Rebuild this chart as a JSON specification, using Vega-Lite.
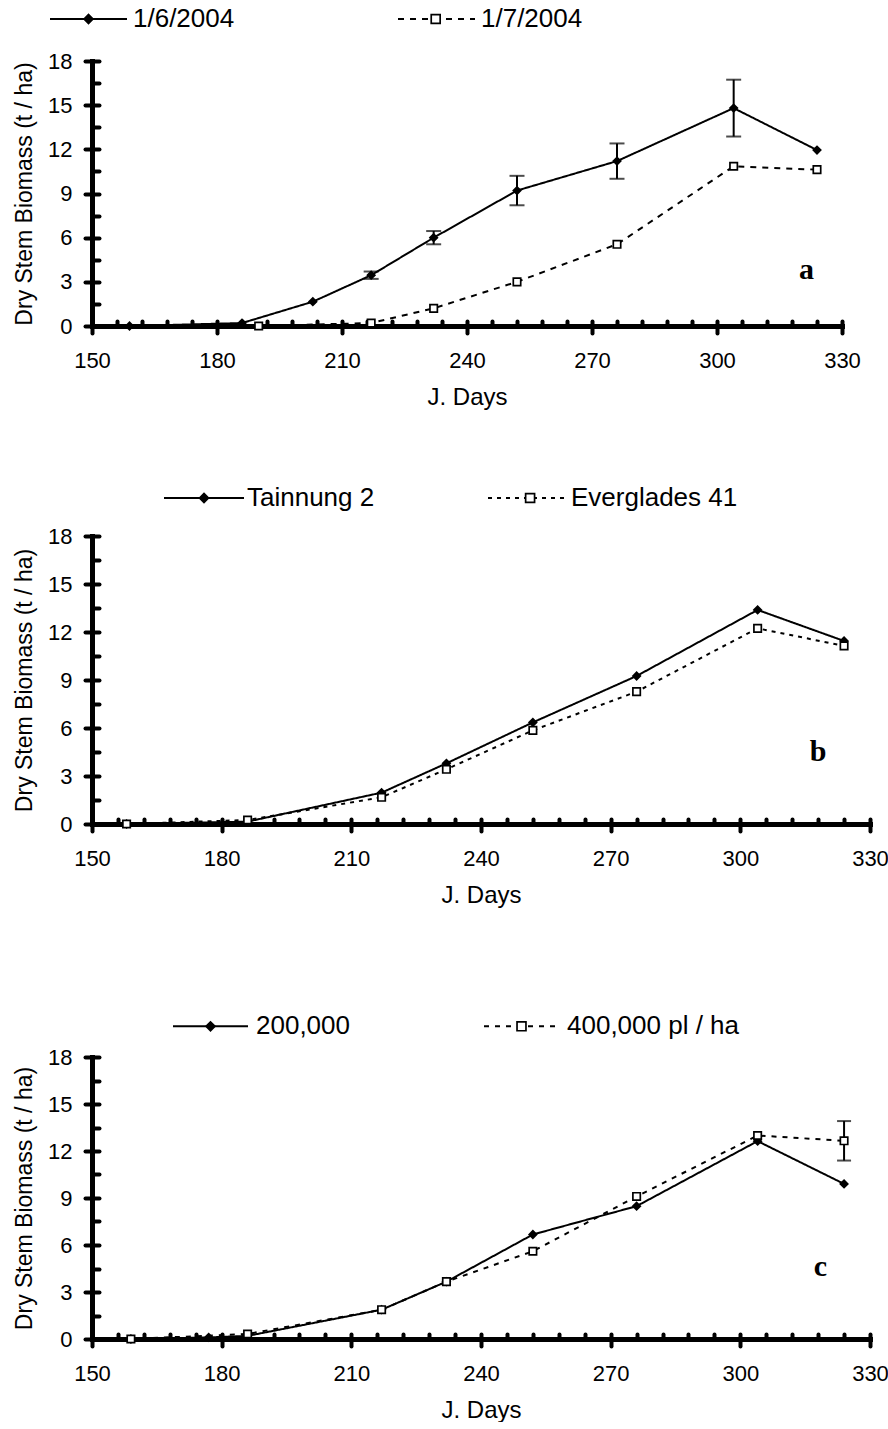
{
  "$schema": "https://vega.github.io/schema/vega-lite/v6.json",
  "background": "white",
  "padding": {"left": 12, "top": 4, "right": 0, "bottom": 0},
  "config": {
    "font": "Liberation Sans",
    "view": {"stroke": null},
    "axis": {
      "labelFont": "Liberation Sans", "titleFont": "Liberation Sans",
      "labelColor": "black", "titleColor": "black", "titleFontWeight": "normal",
      "domainColor": "black", "tickColor": "black", "gridColor": "black",
      "domainWidth": 5, "domainCap": "square", "tickWidth": 4, "tickCap": "round", "tickSize": 7,
      "gridWidth": 4, "gridCap": "round", "gridOpacity": 1,
      "labelFontSize": 22, "labelOverlap": false, "labelFlush": false
    },
    "legend": {"labelFont": "Liberation Sans", "labelColor": "black", "labelFontSize": 26, "labelLimit": 500, "padding": 0, "title": null, "orient": "none", "direction": "horizontal", "clipHeight": 30}
  },
  "datasets": {
    "a": [
      {"series": "1/6/2004", "day": 159, "value": 0},
      {"series": "1/6/2004", "day": 186, "value": 0.2},
      {"series": "1/6/2004", "day": 203, "value": 1.65},
      {"series": "1/6/2004", "day": 217, "value": 3.45, "err": 0.25},
      {"series": "1/6/2004", "day": 232, "value": 6.0, "err": 0.45},
      {"series": "1/6/2004", "day": 252, "value": 9.2, "err": 1.0},
      {"series": "1/6/2004", "day": 276, "value": 11.2, "err": 1.2},
      {"series": "1/6/2004", "day": 304, "value": 14.8, "err": 1.93},
      {"series": "1/6/2004", "day": 324, "value": 11.95},
      {"series": "1/7/2004", "day": 190, "value": 0},
      {"series": "1/7/2004", "day": 217, "value": 0.2},
      {"series": "1/7/2004", "day": 232, "value": 1.2},
      {"series": "1/7/2004", "day": 252, "value": 3.0},
      {"series": "1/7/2004", "day": 276, "value": 5.55},
      {"series": "1/7/2004", "day": 304, "value": 10.85},
      {"series": "1/7/2004", "day": 324, "value": 10.62}
    ],
    "b": [
      {"series": "Tainnung 2", "day": 158, "value": 0},
      {"series": "Tainnung 2", "day": 186, "value": 0.15},
      {"series": "Tainnung 2", "day": 217, "value": 1.96},
      {"series": "Tainnung 2", "day": 232, "value": 3.79},
      {"series": "Tainnung 2", "day": 252, "value": 6.35},
      {"series": "Tainnung 2", "day": 276, "value": 9.25},
      {"series": "Tainnung 2", "day": 304, "value": 13.38},
      {"series": "Tainnung 2", "day": 324, "value": 11.44},
      {"series": "Everglades 41", "day": 158, "value": 0},
      {"series": "Everglades 41", "day": 186, "value": 0.25},
      {"series": "Everglades 41", "day": 217, "value": 1.67},
      {"series": "Everglades 41", "day": 232, "value": 3.42},
      {"series": "Everglades 41", "day": 252, "value": 5.85},
      {"series": "Everglades 41", "day": 276, "value": 8.27},
      {"series": "Everglades 41", "day": 304, "value": 12.23},
      {"series": "Everglades 41", "day": 324, "value": 11.13}
    ],
    "c": [
      {"series": "200,000", "day": 159, "value": 0},
      {"series": "200,000", "day": 177, "value": 0.1},
      {"series": "200,000", "day": 186, "value": 0.2},
      {"series": "200,000", "day": 217, "value": 1.87},
      {"series": "200,000", "day": 232, "value": 3.66},
      {"series": "200,000", "day": 252, "value": 6.67},
      {"series": "200,000", "day": 276, "value": 8.48},
      {"series": "200,000", "day": 304, "value": 12.63},
      {"series": "200,000", "day": 324, "value": 9.9},
      {"series": "400,000 pl / ha", "day": 159, "value": 0},
      {"series": "400,000 pl / ha", "day": 186, "value": 0.32},
      {"series": "400,000 pl / ha", "day": 217, "value": 1.87},
      {"series": "400,000 pl / ha", "day": 232, "value": 3.66},
      {"series": "400,000 pl / ha", "day": 252, "value": 5.6},
      {"series": "400,000 pl / ha", "day": 276, "value": 9.1},
      {"series": "400,000 pl / ha", "day": 304, "value": 12.99},
      {"series": "400,000 pl / ha", "day": 324, "value": 12.65, "err": 1.26}
    ]
  },
  "columns": 1,
  "spacing": 104,
  "resolve": {"scale": {"strokeDash": "independent", "shape": "independent", "fill": "independent", "stroke": "independent"}},
  "concat": [
    {
      "columns": 1,
      "spacing": 74,
      "resolve": {"scale": {"strokeDash": "independent", "shape": "independent", "fill": "independent", "stroke": "independent"}},
      "concat": [
        {
          "width": 750, "height": 265,
          "data": {"name": "a"},
          "encoding": {
            "x": {"field": "day", "type": "quantitative", "scale": {"domain": [150, 330], "nice": false, "zero": false},
              "axis": {"title": "J. Days", "titleFontSize": 24, "titlePadding": 14, "labelPadding": 17,
                "values": [150,156,162,168,174,180,186,192,198,204,210,216,222,228,234,240,246,252,258,264,270,276,282,288,294,300,306,312,318,324,330],
                "labelExpr": "datum.value % 30 === 0 ? datum.label : ''",
                "tickOpacity": {"condition": {"test": "datum.value % 30 === 0", "value": 1}, "value": 0},
                "grid": true, "gridDash": [5, 3000], "gridDashOffset": -260}},
            "y": {"field": "value", "type": "quantitative", "scale": {"domain": [0, 18], "nice": false},
              "axis": {"title": "Dry Stem Biomass (t / ha)", "titleFontSize": 23, "titlePadding": 11, "labelPadding": 13,
                "minExtent": 45, "maxExtent": 45,
                "values": [0,1.5,3,4.5,6,7.5,9,10.5,12,13.5,15,16.5,18],
                "labelExpr": "datum.value % 3 === 0 ? datum.label : ''",
                "tickOpacity": {"condition": {"test": "datum.value % 3 === 0", "value": 1}, "value": 0},
                "grid": true, "gridDash": [7, 3000]}}
          },
          "layer": [
            {
              "mark": {"type": "line", "color": "black", "strokeWidth": 2},
              "encoding": {
                "strokeDash": {"field": "series", "type": "nominal",
                  "scale": {"domain": ["1/6/2004", "1/7/2004"], "range": [[1, 0], [6, 6]]},
                  "legend": {"legendX": -43, "legendY": -57, "zindex": 1,
                    "columnPadding": 162, "labelOffset": 5, "symbolType": "stroke", "symbolSize": 5929,
                    "symbolStrokeWidth": 2, "symbolStrokeColor": "black"}
                }
              }
            },
            {
              "transform": [{"filter": "isValid(datum.err)"}],
              "mark": {"type": "errorbar", "color": "black", "thickness": 2, "ticks": {"size": 15}},
              "encoding": {"yError": {"field": "err"}}
            },
            {
              "mark": {"type": "point", "filled": true, "strokeWidth": 1.7, "opacity": 1, "size": 55},
              "encoding": {
                "shape": {"field": "series", "type": "nominal", "scale": {"range": ["diamond", "square"]},
                  "legend": {"legendX": -16.5, "legendY": -57, "zindex": 2, "columnPadding": 321.2, "labelOffset": 0, "labelExpr": "''",
                    "symbolSize": 80, "symbolStrokeWidth": 1.7}},
                "fill": {"field": "series", "type": "nominal", "scale": {"range": ["black", "white"]},
                  "legend": {"legendX": -16.5, "legendY": -57, "zindex": 2, "columnPadding": 321.2, "labelOffset": 0, "labelExpr": "''",
                    "symbolSize": 80, "symbolStrokeWidth": 1.7}},
                "stroke": {"field": "series", "type": "nominal", "scale": {"range": ["black", "black"]},
                  "legend": {"legendX": -16.5, "legendY": -57, "zindex": 2, "columnPadding": 321.2, "labelOffset": 0, "labelExpr": "''",
                    "symbolSize": 80, "symbolStrokeWidth": 1.7}}
              }
            },
            {
              "data": {"values": [{"day": 321.5, "value": 3.17, "label": "a"}]},
              "mark": {"type": "text", "font": "Liberation Serif", "fontWeight": "bold", "fontSize": 30, "baseline": "alphabetic", "align": "center", "color": "black"},
              "encoding": {"text": {"field": "label"}}
            }
          ]
        },
        {
          "width": 778, "height": 288,
          "data": {"name": "b"},
          "encoding": {
            "x": {"field": "day", "type": "quantitative", "scale": {"domain": [150, 330], "nice": false, "zero": false},
              "axis": {"title": "J. Days", "titleFontSize": 24, "titlePadding": 14, "labelPadding": 17,
                "values": [150,156,162,168,174,180,186,192,198,204,210,216,222,228,234,240,246,252,258,264,270,276,282,288,294,300,306,312,318,324,330],
                "labelExpr": "datum.value % 30 === 0 ? datum.label : ''",
                "tickOpacity": {"condition": {"test": "datum.value % 30 === 0", "value": 1}, "value": 0},
                "grid": true, "gridDash": [5, 3000], "gridDashOffset": -283}},
            "y": {"field": "value", "type": "quantitative", "scale": {"domain": [0, 18], "nice": false},
              "axis": {"title": "Dry Stem Biomass (t / ha)", "titleFontSize": 23, "titlePadding": 11, "labelPadding": 13,
                "minExtent": 45, "maxExtent": 45,
                "values": [0,1.5,3,4.5,6,7.5,9,10.5,12,13.5,15,16.5,18],
                "labelExpr": "datum.value % 3 === 0 ? datum.label : ''",
                "tickOpacity": {"condition": {"test": "datum.value % 3 === 0", "value": 1}, "value": 0},
                "grid": true, "gridDash": [7, 3000]}}
          },
          "layer": [
            {
              "mark": {"type": "line", "color": "black", "strokeWidth": 2},
              "encoding": {
                "strokeDash": {"field": "series", "type": "nominal",
                  "scale": {"domain": ["Tainnung 2", "Everglades 41"], "range": [[1, 0], [4, 5]]},
                  "legend": {"legendX": 71, "legendY": -53, "zindex": 1,
                    "columnPadding": 112, "labelOffset": 2, "symbolType": "stroke", "symbolSize": 6400,
                    "symbolStrokeWidth": 2, "symbolStrokeColor": "black"}
                }
              }
            },
            {
              "mark": {"type": "point", "filled": true, "strokeWidth": 1.7, "opacity": 1, "size": 55},
              "encoding": {
                "shape": {"field": "series", "type": "nominal", "sort": "descending", "scale": {"range": ["diamond", "square"]},
                  "legend": {"legendX": 99, "legendY": -53, "zindex": 2, "columnPadding": 300.1, "labelOffset": 0, "labelExpr": "''",
                    "symbolSize": 80, "symbolStrokeWidth": 1.7}},
                "fill": {"field": "series", "type": "nominal", "sort": "descending", "scale": {"range": ["black", "white"]},
                  "legend": {"legendX": 99, "legendY": -53, "zindex": 2, "columnPadding": 300.1, "labelOffset": 0, "labelExpr": "''",
                    "symbolSize": 80, "symbolStrokeWidth": 1.7}},
                "stroke": {"field": "series", "type": "nominal", "sort": "descending", "scale": {"range": ["black", "black"]},
                  "legend": {"legendX": 99, "legendY": -53, "zindex": 2, "columnPadding": 300.1, "labelOffset": 0, "labelExpr": "''",
                    "symbolSize": 80, "symbolStrokeWidth": 1.7}}
              }
            },
            {
              "data": {"values": [{"day": 318, "value": 3.96, "label": "b"}]},
              "mark": {"type": "text", "font": "Liberation Serif", "fontWeight": "bold", "fontSize": 30, "baseline": "alphabetic", "align": "center", "color": "black"},
              "encoding": {"text": {"field": "label"}}
            }
          ]
        }
      ]
    },
    {
      "width": 778, "height": 282,
      "data": {"name": "c"},
      "encoding": {
        "x": {"field": "day", "type": "quantitative", "scale": {"domain": [150, 330], "nice": false, "zero": false},
          "axis": {"title": "J. Days", "titleFontSize": 24, "titlePadding": 14, "labelPadding": 17,
            "values": [150,156,162,168,174,180,186,192,198,204,210,216,222,228,234,240,246,252,258,264,270,276,282,288,294,300,306,312,318,324,330],
            "labelExpr": "datum.value % 30 === 0 ? datum.label : ''",
            "tickOpacity": {"condition": {"test": "datum.value % 30 === 0", "value": 1}, "value": 0},
            "grid": true, "gridDash": [5, 3000], "gridDashOffset": -277}},
        "y": {"field": "value", "type": "quantitative", "scale": {"domain": [0, 18], "nice": false},
          "axis": {"title": "Dry Stem Biomass (t / ha)", "titleFontSize": 23, "titlePadding": 11, "labelPadding": 13,
            "minExtent": 45, "maxExtent": 45,
            "values": [0,1.5,3,4.5,6,7.5,9,10.5,12,13.5,15,16.5,18],
            "labelExpr": "datum.value % 3 === 0 ? datum.label : ''",
            "tickOpacity": {"condition": {"test": "datum.value % 3 === 0", "value": 1}, "value": 0},
            "grid": true, "gridDash": [7, 3000]}}
      },
      "layer": [
        {
          "mark": {"type": "line", "color": "black", "strokeWidth": 2},
          "encoding": {
            "strokeDash": {"field": "series", "type": "nominal",
              "scale": {"domain": ["200,000", "400,000 pl / ha"], "range": [[1, 0], [5, 6]]},
              "legend": {"legendX": 80, "legendY": -45.7, "zindex": 1,
                "columnPadding": 133, "labelOffset": 7, "symbolType": "stroke", "symbolSize": 5625,
                "symbolStrokeWidth": 2, "symbolStrokeColor": "black"}
            }
          }
        },
        {
          "transform": [{"filter": "isValid(datum.err)"}],
          "mark": {"type": "errorbar", "color": "black", "thickness": 2, "ticks": {"size": 14}},
          "encoding": {"yError": {"field": "err"}}
        },
        {
          "mark": {"type": "point", "filled": true, "strokeWidth": 1.7, "opacity": 1, "size": 55},
          "encoding": {
            "shape": {"field": "series", "type": "nominal", "scale": {"range": ["diamond", "square"]},
              "legend": {"legendX": 105.5, "legendY": -45.7, "zindex": 2, "columnPadding": 285, "labelOffset": 0, "labelExpr": "''",
                "symbolSize": 80, "symbolStrokeWidth": 1.7}},
            "fill": {"field": "series", "type": "nominal", "scale": {"range": ["black", "white"]},
              "legend": {"legendX": 105.5, "legendY": -45.7, "zindex": 2, "columnPadding": 285, "labelOffset": 0, "labelExpr": "''",
                "symbolSize": 80, "symbolStrokeWidth": 1.7}},
            "stroke": {"field": "series", "type": "nominal", "scale": {"range": ["black", "black"]},
              "legend": {"legendX": 105.5, "legendY": -45.7, "zindex": 2, "columnPadding": 285, "labelOffset": 0, "labelExpr": "''",
                "symbolSize": 80, "symbolStrokeWidth": 1.7}}
          }
        },
        {
          "data": {"values": [{"day": 318.5, "value": 4.0, "label": "c"}]},
          "mark": {"type": "text", "font": "Liberation Serif", "fontWeight": "bold", "fontSize": 30, "baseline": "alphabetic", "align": "center", "color": "black"},
          "encoding": {"text": {"field": "label"}}
        }
      ]
    }
  ]
}
